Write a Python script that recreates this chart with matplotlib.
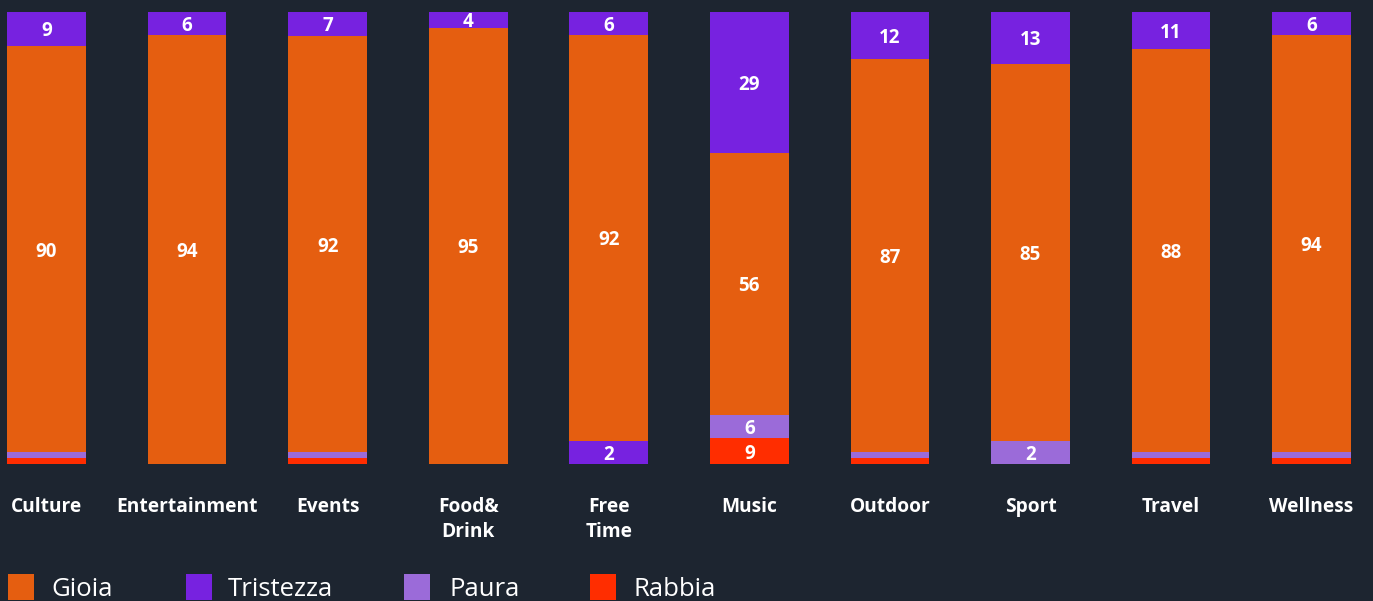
import matplotlib.pyplot as plt
import numpy as np
from matplotlib.patches import Rectangle

categories = ["Culture", "Entertainment", "Events", "Food&\nDrink", "Free\nTime",
              "Music", "Outdoor", "Sport", "Travel", "Wellness"]

# segment shares as drawn (% of bar height), bottom to top
rabbia = [1.3, 0, 1.3, 0, 0, 5.75, 1.3, 0, 1.3, 1.3]
paura = [1.3, 0, 1.3, 0, 0, 5.1, 1.3, 5.1, 1.3, 1.3]
tristezza_base = [0, 0, 0, 0, 5.1, 0, 0, 0, 0, 0]
gioia = [89.9, 94.9, 92.1, 96.5, 89.8, 58.0, 87.0, 83.4, 89.2, 92.3]
tristezza = [7.5, 5.1, 5.3, 3.5, 5.1, 31.2, 10.4, 11.5, 8.2, 5.1]

# numbers printed on the segments (empty = no label)
rabbia_lbl = ["", "", "", "", "", "9", "", "", "", ""]
paura_lbl = ["", "", "", "", "", "6", "", "2", "", ""]
tristezza_base_lbl = ["", "", "", "", "2", "", "", "", "", ""]
gioia_lbl = ["90", "94", "92", "95", "92", "56", "87", "85", "88", "94"]
tristezza_lbl = ["9", "6", "7", "4", "6", "29", "12", "13", "11", "6"]

bg = "#1d2530"
c_gioia = "#e55e10"
c_trist = "#7722e0"
c_paura = "#9b6bd9"
c_rabbia = "#ff2d00"

plt.rcParams['font.family'] = ['Open Sans', 'DejaVu Sans']

fig = plt.figure(figsize=(13.73, 6.01), dpi=100, facecolor=bg)
ax = fig.add_axes([0, 137/601, 1, 452/601], facecolor=bg)

x = np.arange(len(categories))
stack = [(rabbia, rabbia_lbl, c_rabbia), (paura, paura_lbl, c_paura),
         (tristezza_base, tristezza_base_lbl, c_trist),
         (gioia, gioia_lbl, c_gioia), (tristezza, tristezza_lbl, c_trist)]
total = np.sum([np.array(s) for s, _, _ in stack], axis=0)

bottom = np.zeros(len(categories))
for vals, lbls, col in stack:
    h = np.array(vals, dtype=float) / total * 100
    ax.bar(x, h, bottom=bottom, width=0.56, color=col, linewidth=0)
    for i in range(len(x)):
        if lbls[i]:
            ax.text(x[i], bottom[i] + h[i] / 2, lbls[i], ha='center', va='center_baseline',
                    color='white', fontsize=13.5, fontweight='bold')
    bottom += h

ax.set_xlim(-0.331, 9.437)
ax.set_ylim(0, 100)
ax.set_yticks([])
ax.set_xticks(x)
ax.set_xticklabels(categories, color='white', fontsize=13.8, fontweight='bold',
                   linespacing=1.3)
ax.tick_params(axis='x', length=0, pad=24)
for s in ax.spines.values():
    s.set_visible(False)

# legend drawn by hand, sits at the very bottom edge
legend_items = [("Gioia", c_gioia, 8, 51), ("Tristezza", c_trist, 186, 228),
                ("Paura", c_paura, 404, 449), ("Rabbia", c_rabbia, 590, 634)]
W, H = 1373, 601
for name, col, sx, tx in legend_items:
    fig.patches.append(Rectangle((sx / W, (H - 600) / H), 26 / W, 26 / H,
                                 transform=fig.transFigure, color=col, lw=0))
    fig.text(tx / W, (H - 589) / H, name, color='white', fontsize=18.5,
             va='center', ha='left')

fig.savefig("out.png", facecolor=bg)
